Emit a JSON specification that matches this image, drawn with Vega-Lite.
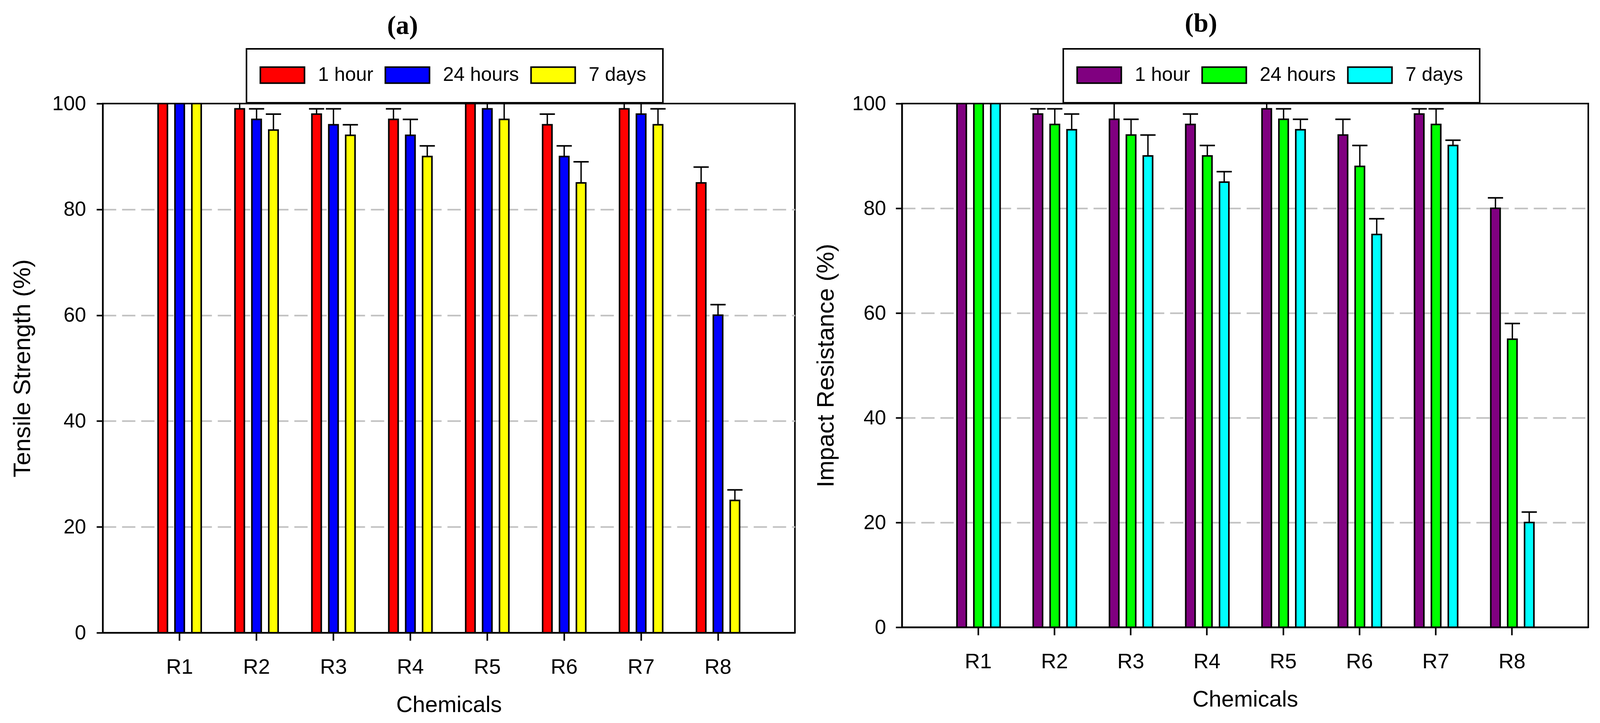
{
  "$schema": "https://vega.github.io/schema/vega-lite/v6.json",
  "background": "white",
  "padding": {"left": 24, "top": 25, "right": 41, "bottom": 18},
  "spacing": 44,
  "datasets": {
    "tensile": [
      {"chem": "R1", "time": "1 hour", "value": 100, "upper": 102},
      {"chem": "R1", "time": "24 hours", "value": 100, "upper": 102},
      {"chem": "R1", "time": "7 days", "value": 100, "upper": 102},
      {"chem": "R2", "time": "1 hour", "value": 99, "upper": 101},
      {"chem": "R2", "time": "24 hours", "value": 97, "upper": 99},
      {"chem": "R2", "time": "7 days", "value": 95, "upper": 98},
      {"chem": "R3", "time": "1 hour", "value": 98, "upper": 99},
      {"chem": "R3", "time": "24 hours", "value": 96, "upper": 99},
      {"chem": "R3", "time": "7 days", "value": 94, "upper": 96},
      {"chem": "R4", "time": "1 hour", "value": 97, "upper": 99},
      {"chem": "R4", "time": "24 hours", "value": 94, "upper": 97},
      {"chem": "R4", "time": "7 days", "value": 90, "upper": 92},
      {"chem": "R5", "time": "1 hour", "value": 100, "upper": 102},
      {"chem": "R5", "time": "24 hours", "value": 99, "upper": 101},
      {"chem": "R5", "time": "7 days", "value": 97, "upper": 101},
      {"chem": "R6", "time": "1 hour", "value": 96, "upper": 98},
      {"chem": "R6", "time": "24 hours", "value": 90, "upper": 92},
      {"chem": "R6", "time": "7 days", "value": 85, "upper": 89},
      {"chem": "R7", "time": "1 hour", "value": 99, "upper": 101},
      {"chem": "R7", "time": "24 hours", "value": 98, "upper": 101},
      {"chem": "R7", "time": "7 days", "value": 96, "upper": 99},
      {"chem": "R8", "time": "1 hour", "value": 85, "upper": 88},
      {"chem": "R8", "time": "24 hours", "value": 60, "upper": 62},
      {"chem": "R8", "time": "7 days", "value": 25, "upper": 27}
    ],
    "impact": [
      {"chem": "R1", "time": "1 hour", "value": 100, "upper": 102},
      {"chem": "R1", "time": "24 hours", "value": 100, "upper": 102},
      {"chem": "R1", "time": "7 days", "value": 100, "upper": 102},
      {"chem": "R2", "time": "1 hour", "value": 98, "upper": 99},
      {"chem": "R2", "time": "24 hours", "value": 96, "upper": 99},
      {"chem": "R2", "time": "7 days", "value": 95, "upper": 98},
      {"chem": "R3", "time": "1 hour", "value": 97, "upper": 101},
      {"chem": "R3", "time": "24 hours", "value": 94, "upper": 97},
      {"chem": "R3", "time": "7 days", "value": 90, "upper": 94},
      {"chem": "R4", "time": "1 hour", "value": 96, "upper": 98},
      {"chem": "R4", "time": "24 hours", "value": 90, "upper": 92},
      {"chem": "R4", "time": "7 days", "value": 85, "upper": 87},
      {"chem": "R5", "time": "1 hour", "value": 99, "upper": 101},
      {"chem": "R5", "time": "24 hours", "value": 97, "upper": 99},
      {"chem": "R5", "time": "7 days", "value": 95, "upper": 97},
      {"chem": "R6", "time": "1 hour", "value": 94, "upper": 97},
      {"chem": "R6", "time": "24 hours", "value": 88, "upper": 92},
      {"chem": "R6", "time": "7 days", "value": 75, "upper": 78},
      {"chem": "R7", "time": "1 hour", "value": 98, "upper": 99},
      {"chem": "R7", "time": "24 hours", "value": 96, "upper": 99},
      {"chem": "R7", "time": "7 days", "value": 92, "upper": 93},
      {"chem": "R8", "time": "1 hour", "value": 80, "upper": 82},
      {"chem": "R8", "time": "24 hours", "value": 55, "upper": 58},
      {"chem": "R8", "time": "7 days", "value": 20, "upper": 22}
    ]
  },
  "hconcat": [
    {
      "title": {"text": "(a)", "offset": 22},
      "width": 1772,
      "height": 1354,
      "data": {"name": "tensile"},
      "encoding": {
        "x": {
          "field": "chem",
          "type": "nominal",
          "title": "Chemicals",
          "scale": {"paddingInner": 0, "paddingOuter": 0.5},
          "axis": {"labelAngle": 0}
        },
        "xOffset": {
          "field": "time",
          "type": "nominal",
          "scale": {"domain": ["1 hour", "24 hours", "7 days"], "paddingInner": 0.446, "paddingOuter": 1.246}
        }
      },
      "layer": [
        {
          "mark": {"type": "bar", "stroke": "black", "strokeWidth": 4},
          "encoding": {
            "y": {
              "field": "value",
              "type": "quantitative",
              "title": "Tensile Strength (%)",
              "scale": {"domain": [0, 100]},
              "axis": {"values": [0, 20, 40, 60, 80, 100], "titlePadding": 44, "labelPadding": 27}
            },
            "color": {
              "field": "time",
              "type": "nominal",
              "scale": {"domain": ["1 hour", "24 hours", "7 days"], "range": ["#ff0000", "#0000ff", "#ffff00"]},
              "legend": {"orient": "none", "legendX": 368, "legendY": -140}
            }
          }
        },
        {
          "mark": {"type": "rule", "clip": true, "color": "black", "strokeWidth": 3.5},
          "encoding": {
            "y": {"field": "value", "type": "quantitative", "title": "Tensile Strength (%)", "axis": {"values": [0, 20, 40, 60, 80, 100], "titlePadding": 44, "labelPadding": 27}},
            "y2": {"field": "upper"}
          }
        },
        {
          "mark": {"type": "tick", "clip": true, "color": "black", "thickness": 4, "size": 39, "opacity": 1},
          "encoding": {
            "y": {"field": "upper", "type": "quantitative", "title": "Tensile Strength (%)", "axis": {"values": [0, 20, 40, 60, 80, 100], "titlePadding": 44, "labelPadding": 27}}
          }
        }
      ]
    },
    {
      "title": {"text": "(b)", "offset": 28},
      "width": 1757,
      "height": 1340,
      "data": {"name": "impact"},
      "encoding": {
        "x": {
          "field": "chem",
          "type": "nominal",
          "title": "Chemicals",
          "scale": {"paddingInner": 0, "paddingOuter": 0.5},
          "axis": {"labelAngle": 0}
        },
        "xOffset": {
          "field": "time",
          "type": "nominal",
          "scale": {"domain": ["1 hour", "24 hours", "7 days"], "paddingInner": 0.446, "paddingOuter": 1.224}
        }
      },
      "layer": [
        {
          "mark": {"type": "bar", "stroke": "black", "strokeWidth": 4},
          "encoding": {
            "y": {
              "field": "value",
              "type": "quantitative",
              "title": "Impact Resistance (%)",
              "scale": {"domain": [0, 100]},
              "axis": {"values": [0, 20, 40, 60, 80, 100], "titlePadding": 35, "labelPadding": 25}
            },
            "color": {
              "field": "time",
              "type": "nominal",
              "scale": {"domain": ["1 hour", "24 hours", "7 days"], "range": ["#800080", "#00ff00", "#00ffff"]},
              "legend": {"orient": "none", "legendX": 413, "legendY": -140}
            }
          }
        },
        {
          "mark": {"type": "rule", "clip": true, "color": "black", "strokeWidth": 3.5},
          "encoding": {
            "y": {"field": "value", "type": "quantitative", "title": "Impact Resistance (%)", "axis": {"values": [0, 20, 40, 60, 80, 100], "titlePadding": 35, "labelPadding": 25}},
            "y2": {"field": "upper"}
          }
        },
        {
          "mark": {"type": "tick", "clip": true, "color": "black", "thickness": 4, "size": 39, "opacity": 1},
          "encoding": {
            "y": {"field": "upper", "type": "quantitative", "title": "Impact Resistance (%)", "axis": {"values": [0, 20, 40, 60, 80, 100], "titlePadding": 35, "labelPadding": 25}}
          }
        }
      ]
    }
  ],
  "resolve": {"scale": {"color": "independent"}},
  "config": {
    "font": "Liberation Sans",
    "view": {"stroke": "black", "strokeWidth": 4},
    "title": {
      "font": "Liberation Serif",
      "fontSize": 68,
      "fontWeight": "bold",
      "color": "black",
      "anchor": "middle",
      "frame": "bounds"
    },
    "axis": {
      "domainColor": "black",
      "domainWidth": 4,
      "tickColor": "black",
      "tickWidth": 4,
      "labelColor": "black",
      "titleColor": "black",
      "titleFontWeight": "normal",
      "labelFont": "Liberation Sans",
      "titleFont": "Liberation Sans"
    },
    "axisX": {
      "grid": false,
      "tickSize": 20,
      "labelFontSize": 54,
      "labelPadding": 41,
      "titleFontSize": 58,
      "titlePadding": 41
    },
    "axisY": {
      "tickSize": 16,
      "labelFontSize": 52,
      "titleFontSize": 62,
      "grid": true,
      "gridDash": [34, 15],
      "gridWidth": 4,
      "gridColor": {
        "condition": {"test": "datum.value === 0 || datum.value === 100", "value": "transparent"},
        "value": "#c0c0c0"
      }
    },
    "legend": {
      "direction": "horizontal",
      "title": null,
      "strokeColor": "black",
      "strokeWidth": 4,
      "fillColor": "white",
      "padding": 42,
      "labelFontSize": 50,
      "labelColor": "black",
      "labelFont": "Liberation Sans",
      "labelOffset": 66,
      "labelLimit": 600,
      "columnPadding": 22,
      "symbolType": "M-2.457,-0.891H2.457V0.891H-2.457Z",
      "symbolSize": 2116,
      "symbolOffset": 25,
      "symbolStrokeColor": "black",
      "symbolStrokeWidth": 4,
      "symbolOpacity": 1
    }
  }
}
